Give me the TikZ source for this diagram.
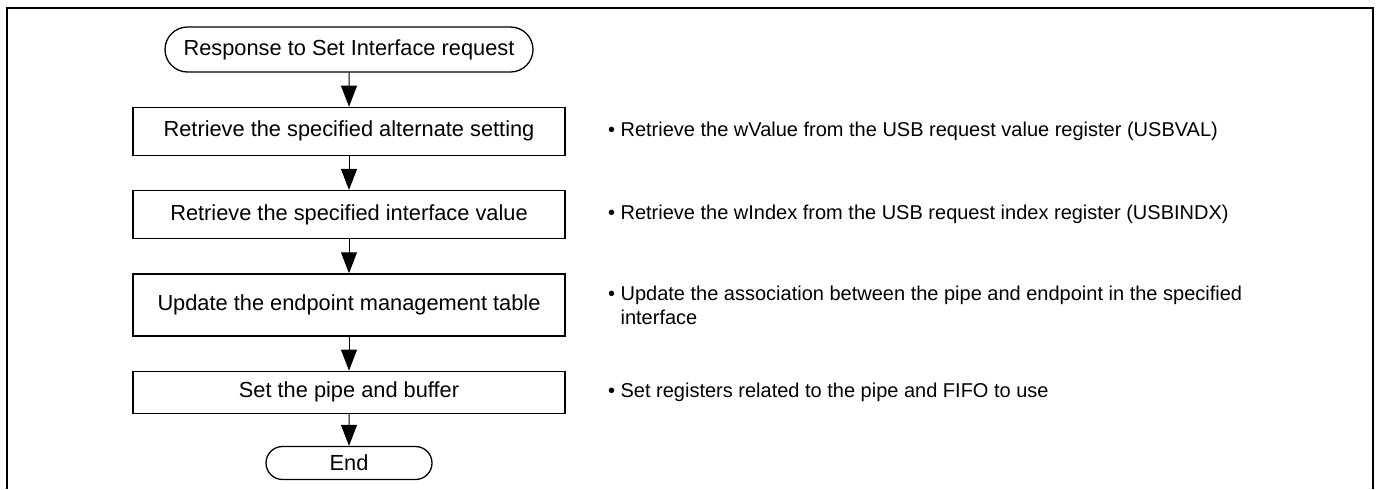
\documentclass[tikz,border=0pt]{standalone}
\usepackage{fontspec}
\setmainfont{Liberation Sans}
\usepackage{tikz}
\usetikzlibrary{arrows.meta, positioning, shapes.misc}

\tikzset{
  stepbox/.style={draw, line width=0.65pt, minimum width=216pt, inner sep=0pt},
  term/.style={draw, line width=0.65pt, rounded rectangle, inner sep=0pt},
  note/.style={align=left, inner sep=0pt, font=\fontsize{10}{12}\selectfont},
}

\begin{document}
\begin{tikzpicture}[node distance=17pt, >={Triangle[width=8pt, length=10.5pt]},
  font=\fontsize{10.9}{13}\selectfont]
\useasboundingbox (0,0) rectangle (688pt,-244.5pt);
\draw[line width=1pt] (3.25pt,-244.5pt) |- (686.25pt,-4pt) -- (686.25pt,-244.5pt);

\node[term, minimum width=184pt, minimum height=22.5pt] (start) at (174.5pt,-24.75pt) {Response to Set Interface request};
\node[stepbox, minimum height=24pt, below=of start] (alt) {Retrieve the specified alternate setting};
\node[stepbox, minimum height=24pt, below=of alt] (intf) {Retrieve the specified interface value};
\node[stepbox, minimum height=31pt, below=of intf] (eptab) {Update the endpoint management table};
\node[stepbox, minimum height=21pt, below=of eptab] (pipe) {Set the pipe and buffer};
\node[term, minimum width=83pt, minimum height=16.5pt, below=16pt of pipe] (end) {End};

\draw[->, line width=0.5pt] (start) -- (alt);
\draw[->, line width=0.5pt] (alt) -- (intf);
\draw[->, line width=0.5pt] (intf) -- (eptab);
\draw[->, line width=0.5pt] (eptab) -- (pipe);
\draw[->, line width=0.5pt] (pipe) -- (end);

% notes beside the steps
\node[note, right=21pt of alt] (altnote) {\textbullet\ Retrieve the wValue from the USB request value register (USBVAL)};
\node[note, right=21pt of intf] (intfnote) {\textbullet\ Retrieve the wIndex from the USB request index register (USBINDX)};
\node[note, right=21pt of eptab] (eptabnote) {\textbullet\ Update the association between the pipe and endpoint in the specified\\\phantom{\textbullet\ }interface};
\node[note, right=21pt of pipe] (pipenote) {\textbullet\ Set registers related to the pipe and FIFO to use};
\end{tikzpicture}
\end{document}
